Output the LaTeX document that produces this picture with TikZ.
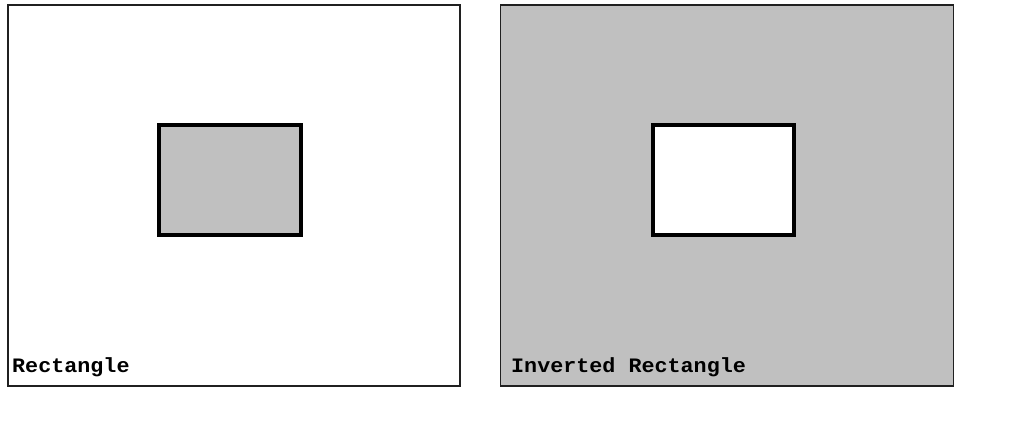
\documentclass[tikz,border=0pt]{standalone}
\usepackage{fontspec}
\newfontfamily\cour[FakeStretch=1.06]{Liberation Mono}
\definecolor{silverfill}{HTML}{C0C0C0}
\definecolor{edgegray}{HTML}{202020}
\tikzset{
  panel/.style={draw=edgegray, line width=1.6pt},
  inner/.style={draw=black, line width=4pt},
  caption/.style={anchor=base west, inner sep=0pt, font=\cour\bfseries\fontsize{20.5}{21}\selectfont}
}
\begin{document}
\begin{tikzpicture}[x=1pt,y=-1pt]
\useasboundingbox (0,0) rectangle (1034,426);
% left panel
\draw[panel, fill=white] (8,5) rectangle (460,386);
\draw[inner, fill=silverfill] (159,125) rectangle (301,235);
\node[caption] (lcap) at (12,372) {Rectangle};
% right panel
\draw[panel, fill=silverfill] (500.5,5) rectangle (953.5,386);
\draw[inner, fill=white] (653,125) rectangle (794,235);
\node[caption] (rcap) at (511,372) {Inverted Rectangle};
\end{tikzpicture}
\end{document}
